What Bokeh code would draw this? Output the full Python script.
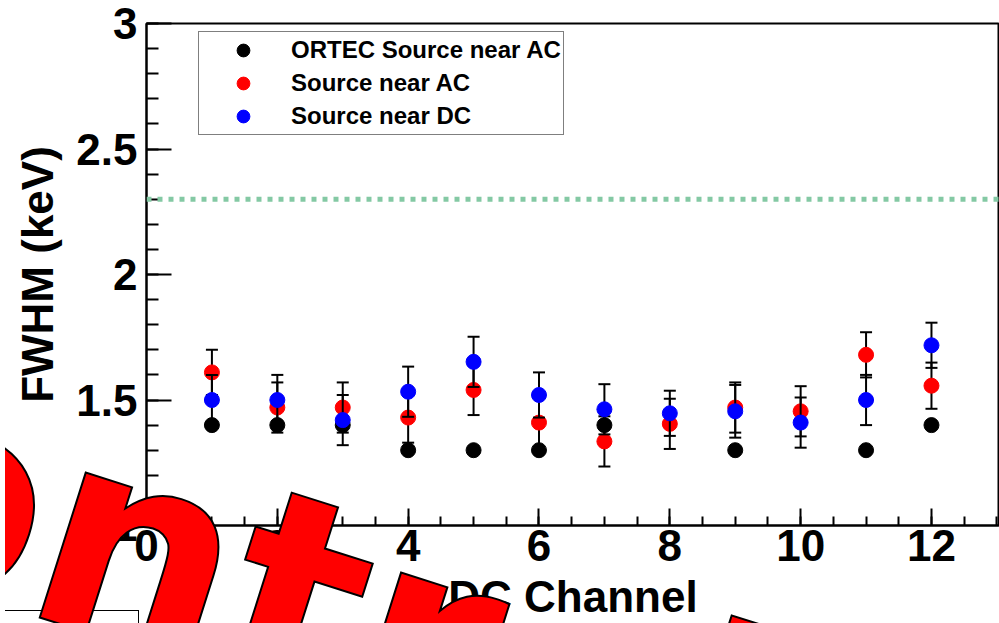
from bokeh.plotting import figure
from bokeh.layouts import column
from bokeh.models import (Range1d, SingleIntervalTicker, Span, Legend, LegendItem,
                          Div, NumeralTickFormatter, ColumnDataSource)
from bokeh.embed import file_html
from bokeh.resources import INLINE

# ---------------- data ----------------
ortec_channel = [1, 2, 3, 4, 5, 6, 7, 9, 11, 12]
ortec_fwhm = [1.40, 1.40, 1.40, 1.30, 1.30, 1.30, 1.40, 1.30, 1.30, 1.40]

channel = [1, 2, 3, 4, 5, 6, 7, 8, 9, 10, 11, 12]
ac_fwhm = [1.61, 1.47, 1.47, 1.43, 1.54, 1.41, 1.335, 1.405, 1.47, 1.455, 1.68, 1.557]
ac_err = [0.09, 0.10, 0.10, 0.10, 0.10, 0.10, 0.10, 0.10, 0.10, 0.10, 0.09, 0.092]
dc_fwhm = [1.50, 1.50, 1.42, 1.533, 1.652, 1.52, 1.463, 1.447, 1.455, 1.41, 1.50, 1.718]
dc_err = [0.10, 0.10, 0.10, 0.10, 0.10, 0.09, 0.10, 0.09, 0.105, 0.10, 0.10, 0.09]

reference_fwhm = 2.3
legend_labels = ["ORTEC Source near AC", "Source near AC", "Source near DC"]
series_colors = ["black", "red", "blue"]
overlay_text = "Controlled"

FONT = "Liberation Sans"

p = figure(width=999, height=623, output_backend="svg", toolbar_location=None,
           x_range=Range1d(0, 13.04), y_range=Range1d(1, 3),
           min_border_left=146, min_border_right=0, min_border_top=23, min_border_bottom=96)
p.grid.visible = False
p.background_fill_color = "white"
p.border_fill_color = "white"
p.outline_line_color = "black"
p.outline_line_width = 2

# axes
xa = p.xaxis[0]
xa.ticker = SingleIntervalTicker(interval=2, num_minor_ticks=4)
xa.major_tick_in = 17
xa.major_tick_out = 0
xa.minor_tick_in = 9
xa.minor_tick_out = 0
xa.axis_line_width = 2
xa.major_tick_line_width = 2
xa.minor_tick_line_width = 2
xa.major_label_text_font = FONT
xa.major_label_text_font_size = "44px"
xa.major_label_text_font_style = "bold"
xa.major_label_text_color = "black"
xa.major_label_standoff = 4
xa.axis_label = "DC Channel"
xa.axis_label_text_font = FONT
xa.axis_label_text_font_size = "44px"
xa.axis_label_text_font_style = "bold"
xa.axis_label_text_color = "black"
xa.axis_label_standoff = 8

ya = p.yaxis[0]
ya.ticker = SingleIntervalTicker(interval=0.5, num_minor_ticks=5)
ya.formatter = NumeralTickFormatter(format="0.[0]")
ya.major_tick_in = 25
ya.major_tick_out = 0
ya.minor_tick_in = 12
ya.minor_tick_out = 0
ya.axis_line_width = 2
ya.major_tick_line_width = 2
ya.minor_tick_line_width = 2
ya.major_label_text_font = FONT
ya.major_label_text_font_size = "44px"
ya.major_label_text_font_style = "bold"
ya.major_label_text_color = "black"
ya.major_label_standoff = 9
ya.axis_label = "FWHM (keV)"
ya.axis_label_text_font = FONT
ya.axis_label_text_font_size = "44px"
ya.axis_label_text_font_style = "bold"
ya.axis_label_text_color = "black"
ya.axis_label_standoff = 11

# reference line
p.add_layout(Span(location=reference_fwhm, dimension="width", line_color="#84c9a4",
                  line_width=5, line_dash="5 6"))

MS = 15
renderers = []
r0 = p.scatter(ortec_channel, ortec_fwhm, size=MS, marker="circle",
               fill_color=series_colors[0], line_color=series_colors[0])
renderers.append(r0)

for vals, errs, col in [(ac_fwhm, ac_err, series_colors[1]), (dc_fwhm, dc_err, series_colors[2])]:
    lo = [v - e for v, e in zip(vals, errs)]
    hi = [v + e for v, e in zip(vals, errs)]
    src = ColumnDataSource(dict(x=channel, y=vals, lo=lo, hi=hi))
    p.segment(x0="x", y0="lo", x1="x", y1="hi", source=src, line_color="black", line_width=2)
    p.scatter(x="x", y="lo", source=src, marker="dash", size=12, line_color="black", line_width=2)
    p.scatter(x="x", y="hi", source=src, marker="dash", size=12, line_color="black", line_width=2)
    r = p.scatter(x="x", y="y", source=src, size=MS, marker="circle", fill_color=col, line_color=col)
    renderers.append(r)

legend = Legend(items=[LegendItem(label=l, renderers=[r]) for l, r in zip(legend_labels, renderers)],
                location=(52, 390), orientation="vertical",
                border_line_color="black", border_line_width=1.5,
                background_fill_color="white", background_fill_alpha=1.0,
                padding=2, spacing=1, margin=0,
                glyph_width=84, glyph_height=32, label_height=28,
                label_standoff=6,
                label_text_font=FONT, label_text_font_size="24px",
                label_text_font_style="bold", label_text_color="black")
p.add_layout(legend)

# big overlay stamp (drawn over the whole chart, beyond the frame)
stamp_html = (
    '<div style="position:absolute; left:-13px; top:605px; width:147px; height:60px; '
    'border:1.5px solid black; box-sizing:border-box;"></div>'
    '<div style="position:absolute; left:-364px; top:251px; transform-origin:0px 235px; '
    'transform:rotate(17.6deg); font-family:\'DejaVu Sans\'; font-weight:bold; font-size:278px; '
    'line-height:278px; color:#ff0000; -webkit-text-stroke:2px black; white-space:nowrap;">'
    + overlay_text + '</div>'
)
stamp = Div(text=stamp_html, width=999, height=623,
            styles={"position": "absolute", "left": "0px", "top": "0px",
                    "overflow": "hidden", "pointer-events": "none", "z-index": "10"})

root = column(p, stamp, width=999, height=623)
open("out.html", "w").write(file_html(root, INLINE))
